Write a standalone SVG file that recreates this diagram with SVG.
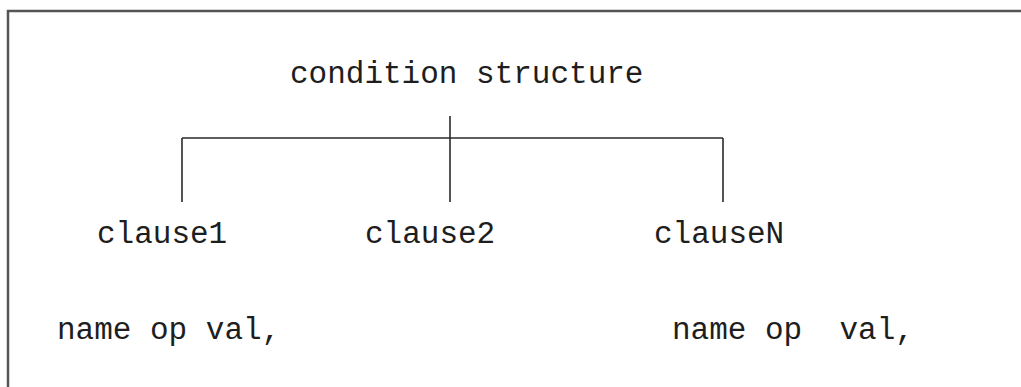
<svg xmlns="http://www.w3.org/2000/svg" width="1021" height="387" viewBox="0 0 1021 387">
  <style>
    .lbl { font-family: "Liberation Mono", "Courier New", monospace; font-size: 31px; fill: #1e1e1e; white-space: pre; }
    .frame { stroke: #555; stroke-width: 2.5; fill: none; }
    .link { stroke: #2a2a2a; stroke-width: 1.6; fill: none; }
  </style>
  <rect width="1021" height="387" fill="#ffffff"/>

  <!-- outer border (top and left edges) -->
  <path class="frame" d="M8 387 V11 H1021"/>

  <!-- tree connectors -->
  <g id="connectors">
    <line class="link" x1="450" y1="116" x2="450" y2="202"/>
    <line class="link" x1="182" y1="138" x2="723" y2="138"/>
    <line class="link" x1="182" y1="138" x2="182" y2="202"/>
    <line class="link" x1="723" y1="138" x2="723" y2="202"/>
  </g>

  <g id="root">
    <text class="lbl" x="290" y="83">condition structure</text>
  </g>
  <g id="clause1">
    <text class="lbl" x="97" y="243">clause1</text>
  </g>
  <g id="clause2">
    <text class="lbl" x="365" y="243">clause2</text>
  </g>
  <g id="clauseN">
    <text class="lbl" x="654" y="243">clauseN</text>
  </g>
  <g id="expr1">
    <text class="lbl" x="57" y="339">name op val,</text>
  </g>
  <g id="exprN">
    <text class="lbl" x="672" y="339">name op  val,</text>
  </g>
</svg>
